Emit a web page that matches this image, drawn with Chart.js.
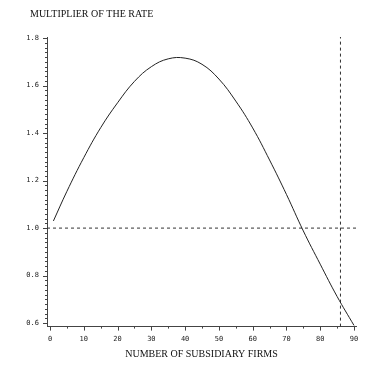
<!DOCTYPE html>
<html>
<head>
<meta charset="utf-8">
<script src="https://cdn.jsdelivr.net/npm/chart.js@4/dist/chart.umd.min.js"></script>
<style>
  html, body { margin: 0; padding: 0; background: #fff; }
  #wrap { width: 371px; height: 365px; }
</style>
</head>
<body>
<div id="wrap"><canvas id="chart"></canvas></div>
<script>
// values
const firms = [1, 5, 10, 15, 20, 25, 30, 35, 40, 45, 50, 55, 60, 65, 70, 75, 80, 85, 90];
const multiplier = [1.03, 1.155, 1.297, 1.423, 1.528, 1.618, 1.68, 1.713, 1.716, 1.69, 1.628, 1.535, 1.422, 1.287, 1.142, 0.988, 0.848, 0.712, 0.59];
const xTicks = [0, 10, 20, 30, 40, 50, 60, 70, 80, 90];
const yTicks = [0.6, 0.8, 1.0, 1.2, 1.4, 1.6, 1.8];
const refRate = 1.0;   // horizontal dashed line
const refFirms = 86;   // vertical dashed line
const yTitle = "MULTIPLIER OF THE RATE";

const X_MIN = -0.9, X_MAX = 90.6, Y_MIN = 0.585, Y_MAX = 1.805;

const tickFont = { family: "DejaVu Sans Mono", size: 7 };

// small tick marks between the labelled ones + the y title up in the corner
const extras = {
  id: "extras",
  afterDraw(chart) {
    const ctx = chart.ctx, xs = chart.scales.x, ys = chart.scales.y;
    const a = chart.chartArea;
    ctx.save();
    ctx.strokeStyle = "#444";
    ctx.lineWidth = 1;
    ctx.beginPath();
    for (let i = 0; i <= 60; i++) {
      const v = 0.6 + i * 0.02;
      const py = Math.round(ys.getPixelForValue(v)) + 0.5;
      const len = (i % 10 === 0) ? 4 : 2;
      ctx.moveTo(a.left - len, py);
      ctx.lineTo(a.left, py);
    }
    for (let i = 0; i <= 18; i++) {
      const v = i * 5;
      const px = Math.round(xs.getPixelForValue(v)) + 0.5;
      const len = (i % 2 === 0) ? 4 : 2;
      ctx.moveTo(px, a.bottom);
      ctx.lineTo(px, a.bottom + len);
    }
    ctx.stroke();

    ctx.fillStyle = "#111";
    ctx.font = "10px 'Liberation Serif'";
    ctx.textBaseline = "middle";
    ctx.fillText(yTitle, 30, 14);
    ctx.restore();
  }
};

new Chart(document.getElementById("chart"), {
  type: "scatter",
  data: {
    datasets: [
      {
        data: firms.map((f, i) => ({ x: f, y: multiplier[i] })),
        showLine: true,
        borderColor: "#222",
        borderWidth: 1,
        pointRadius: 0,
        tension: 0.4
      },
      {
        data: [{ x: X_MIN, y: refRate }, { x: X_MAX, y: refRate }],
        showLine: true,
        borderColor: "#333",
        borderWidth: 1,
        borderDash: [3, 3],
        pointRadius: 0
      },
      {
        data: [{ x: refFirms, y: Y_MIN }, { x: refFirms, y: Y_MAX }],
        showLine: true,
        borderColor: "#333",
        borderWidth: 1,
        borderDash: [3, 3],
        pointRadius: 0
      }
    ]
  },
  options: {
    responsive: true,
    maintainAspectRatio: false,
    animation: false,
    layout: { padding: { left: 0, right: 15, top: 37, bottom: 5 } },
    plugins: {
      legend: { display: false },
      tooltip: { enabled: false },
      title: { display: false }
    },
    scales: {
      x: {
        type: "linear",
        min: X_MIN,
        max: X_MAX,
        afterBuildTicks: s => { s.ticks = xTicks.map(v => ({ value: v })); },
        ticks: { color: "#222", font: tickFont, padding: 8, maxRotation: 0 },
        grid: { drawOnChartArea: false, drawTicks: false },
        border: { color: "#444", width: 1 },
        title: {
          display: true,
          text: "NUMBER OF SUBSIDIARY FIRMS",
          color: "#111",
          font: { family: "Liberation Serif", size: 10 },
          padding: { top: -3, bottom: 0 }
        }
      },
      y: {
        min: Y_MIN,
        max: Y_MAX,
        afterBuildTicks: s => { s.ticks = yTicks.map(v => ({ value: v })); },
        afterFit: s => { s.width = 47; },
        ticks: { color: "#222", font: tickFont, padding: 8, callback: v => v.toFixed(1) },
        grid: { drawOnChartArea: false, drawTicks: false },
        border: { color: "#444", width: 1 }
      }
    }
  },
  plugins: [extras]
});
</script>
</body>
</html>
